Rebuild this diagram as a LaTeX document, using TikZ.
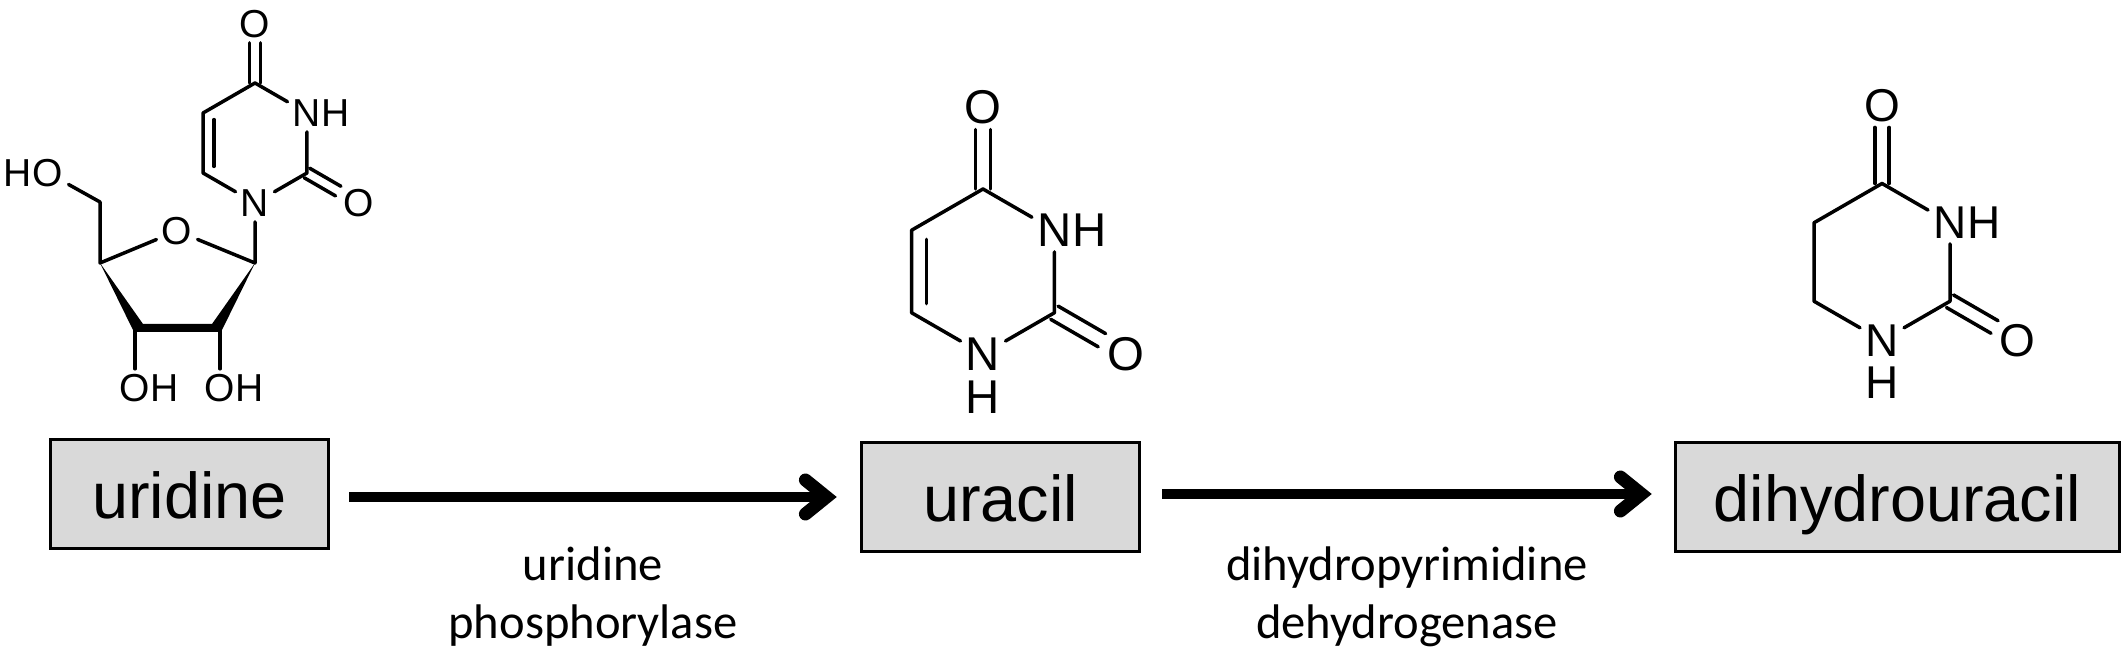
\documentclass[tikz,border=0pt]{standalone}
\usepackage{fontspec}
\setmainfont{Liberation Sans}
\newfontfamily\enzymefont{Carlito}
\usetikzlibrary{arrows.meta, positioning}
\tikzset{
	bond/.style={line width=1.75pt, line cap=round, line join=round},
	dbond/.style={bond, transform canvas={shift={(#1)}}},
	atom/.style={inner sep=2.5pt},
	nexth/.style={inner xsep=0pt, inner ysep=2.5pt},
	compound/.style={draw=black, line width=1.75pt, fill=boxgrey, minimum height=54.5pt,
		text height=26pt, text depth=2pt, font=\fontsize{32.4}{36}\selectfont},
	enzyme/.style={align=center, font=\enzymefont\fontsize{24.3}{29}\selectfont},
	reaction/.style={line width=5pt, -{Straight Barb[length=10.5pt, width=17pt, line width=6.5pt, line cap=round, line join=miter]}}
}
\definecolor{boxgrey}{HTML}{D9D9D9}
% ring with its two carbonyl groups, #2 #3 = centre, #4 = bond length, #5 = font size
\newcommand{\pyrimRing}[5]{
	\begin{scope}[shift={(#2,#3)}, x=#4, y=-#4, atom/.append style={font=\fontsize{#5}{#5}\selectfont}]
		\coordinate (#1c4) at (0,-1);
		\coordinate (#1c5) at (-.866,-.5);
		\coordinate (#1c6) at (-.866,.5);
		\coordinate (#1c2) at (.866,.5);
		\coordinate (#1i5) at (-.686,-.39);
		\coordinate (#1i6) at (-.686,.39);
		\node[atom] (#1n1) at (0,1) {N};
		\node[atom] (#1n3) at (.866,-.5) {N};
		\node[atom, nexth, right=-2.5pt of #1n3] (#1h3) {H};
		\node[atom] (#1o4) at (0,-1.99) {O};
		\node[atom] (#1o2) at (1.73,1) {O};
		\draw[bond] (#1n3) -- (#1c4) -- (#1c5) -- (#1c6) -- (#1n1);
		\draw[bond] (#1n1) -- (#1c2) -- (#1n3);
		\draw[dbond={-.09,0}] (#1c4) -- (#1o4);
		\draw[dbond={.09,0}] (#1c4) -- (#1o4);
		\draw[dbond={.045,-.08}] (#1c2) -- (#1o2);
		\draw[dbond={-.045,.08}] (#1c2) -- (#1o2);
	\end{scope}
}

\begin{document}
\begin{tikzpicture}[x=.5pt, y=-.5pt]
	\useasboundingbox (0,0) rectangle (2128,651);

	% uridine
	\pyrimRing{a}{255}{143}{30pt}{19.5}
	\draw[bond] (ai5) -- (ai6);
	\tikzset{atom/.append style={font=\fontsize{19.5}{19.5}\selectfont}}
	\coordinate (c4p) at (100,263);
	\coordinate (c5p) at (100,202);
	\coordinate (c1p) at (255,263);
	\coordinate (c3p) at (135,330);
	\coordinate (c2p) at (220,330);
	\node[atom] (ringo) at (177,231) {O};
	\node[atom] (o5) at (48,173) {O};
	\node[atom, nexth, left=-2.5pt of o5] (h5) {H};
	\node[atom] (o3) at (135,388) {O};
	\node[atom, nexth, right=-2.5pt of o3] (h3) {H};
	\node[atom] (o2) at (220,388) {O};
	\node[atom, nexth, right=-2.5pt of o2] (h2) {H};
	\draw[bond] (o5) -- (c5p) -- (c4p) -- (ringo) -- (c1p) -- (an1);
	\draw[bond] (c3p) -- (o3);
	\draw[bond] (c2p) -- (o2);
	\fill (c4p) -- (143,324) -- (212,324) -- (c1p) -- (221,332) -- (134,332) -- cycle;

	% uracil
	\begin{scope}
		\pyrimRing{b}{983}{271.5}{41.25pt}{23.7}
		\draw[bond] (bi5) -- (bi6);
		\node[atom, font=\fontsize{23.7}{23.7}\selectfont, below=0pt of bn1] (bh1) {H};
	\end{scope}

	% dihydrouracil
	\begin{scope}
		\pyrimRing{c}{1882}{262}{39.25pt}{23}
		\node[atom, font=\fontsize{23}{23}\selectfont, below=0pt of cn1] (ch1) {H};
	\end{scope}

	\node[compound, minimum width=139pt] (uridine) at (189.5,494) {uridine};
	\node[compound, minimum width=139pt] (uracil) at (1000.5,497) {uracil};
	\node[compound, minimum width=222pt] (dihydrouracil) at (1897.5,497) {dihydrouracil};

	\draw[reaction, shorten <=9.5pt, shorten >=11.5pt] (uridine.east |- uracil.west) -- (uracil.west);
	\draw[reaction, shorten <=10.5pt, shorten >=11pt] ([yshift=1.5pt]uracil.east) -- ([yshift=1.5pt]dihydrouracil.west);

	\node[enzyme] (phosphorylase) at (593,597) {uridine\\phosphorylase};
	\node[enzyme] (dehydrogenase) at (1407,597) {dihydropyrimidine\\dehydrogenase};
\end{tikzpicture}
\end{document}
